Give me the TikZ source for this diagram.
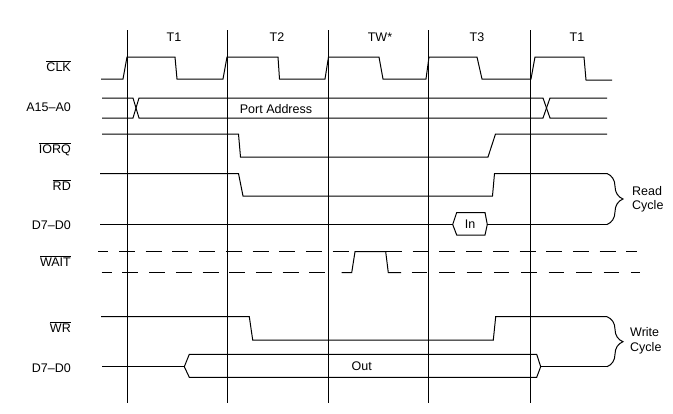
\documentclass[tikz,border=0pt]{standalone}
\usepackage{fontspec}
\setmainfont{Liberation Sans}
\usetikzlibrary{decorations.pathreplacing}
\begin{document}
\begin{tikzpicture}[x=1pt,y=-1pt,
  sig/.style={line width=1pt,line join=miter},
  gridline/.style={line width=0.9pt},
  txt/.style={inner sep=0pt,font=\fontsize{12.5}{14}\selectfont},
  lbl/.style={txt,anchor=base east},
  tlbl/.style={txt,anchor=base},
  rlbl/.style={txt,anchor=base west},
  dshA/.style={line width=1pt,dash pattern=on 16pt off 10.7pt,dash phase=6pt},
  dshB/.style={line width=1pt,dash pattern=on 15.5pt off 11.9pt},
  brc/.style={decorate,decoration={brace,amplitude=16pt},line width=1pt}
]
\useasboundingbox (0,0) rectangle (673,413);

% time grid
\foreach \x/\n in {127/g1,227/g2,328/g3,428/g4,530/g5}{
  \coordinate (\n t) at (\x,30);
  \coordinate (\n b) at (\x,403);
  \draw[gridline] (\n t) -- (\n b);
}
\node[tlbl] (t1) at (174,41.5) {T1};
\node[tlbl] (t2) at (277,41.5) {T2};
\node[tlbl] (tw) at (380,41.5) {TW*};
\node[tlbl] (t3) at (477,41.5) {T3};
\node[tlbl] (t4) at (577,41.5) {T1};

% signal labels
\node[lbl] (lclk)  at (71,71)    {$\overline{\hbox{CLK}}$};
\node[lbl] (laddr) at (71,111.5) {A15--A0};
\node[lbl] (liorq) at (71,153)   {$\overline{\hbox{IORQ}}$};
\node[lbl] (lrd)   at (71,190)   {$\overline{\hbox{RD}}$};
\node[lbl] (ldr)   at (71,229)   {D7--D0};
\node[lbl] (lwait) at (71,266.5) {$\overline{\hbox{WAIT}}$};
\node[lbl] (lwr)   at (71,332.5) {$\overline{\hbox{WR}}$};
\node[lbl] (ldw)   at (71,372.5) {D7--D0};

% CLK
\draw[sig] (101,79) -- (123,79) -- (127,57) -- (175,57) -- (177,79) -- (223,79)
  -- (227,57) -- (278,57) -- (279.5,79) -- (325,79) -- (328.5,57) -- (379,57)
  -- (383,79) -- (426,79) -- (429,57) -- (477,57) -- (482,79) -- (531,79)
  -- (535,57) -- (584,57) -- (586,80) -- (612,80);

% Address bus
\draw[sig] (102,98) -- (133,98) -- (139,118) -- (543,118) -- (550,98) -- (607,98);
\draw[sig] (102,118) -- (133,118) -- (139,98) -- (543,98) -- (550,118) -- (607,118);
\node[tlbl] (paddr) at (276,113) {Port Address};

% IORQ
\draw[sig] (102,134) -- (238.5,134) -- (240.5,157) -- (488,157) -- (495.5,134) -- (607,134);

% RD
\coordinate (rdend) at (607,173.5);
\draw[sig] (100,173.5) -- (238.5,173.5) -- (243,196) -- (492.5,196) -- (494.5,173.5) -- (rdend);

% D7-D0 read
\coordinate (drend) at (607,224.5);
\draw[sig] (100,224.5) -- (452.7,224.5);
\draw[sig] (452.7,224.5) -- (456.7,212.5) -- (485,212.5) -- (487.3,224.5) -- (485,235) -- (456.7,235) -- cycle;
\draw[sig] (487.3,224.5) -- (drend);
\node[tlbl] (din) at (470,228) {In};

% Read brace
\draw[brc] (rdend) -- (drend);
\node[rlbl] (rd1) at (632,195) {Read};
\node[rlbl] (rd2) at (632,209.5) {Cycle};

% WAIT
\draw[dshA] (98.3,251.7) -- (636.7,251.7);
\draw[dshA] (101.7,272.7) -- (329.5,272.7);
\draw[sig] (341.7,272.7) -- (351.7,272.7) -- (355,251.7) -- (385.7,251.7) -- (388.3,272.7) -- (401,272.7);
\draw[dshB] (411.7,272.7) -- (640,272.7);

% WR
\coordinate (wrend) at (607,316.7);
\draw[sig] (101,316.7) -- (249.3,316.7) -- (252.7,340) -- (493.3,340) -- (495.7,316.7) -- (wrend);

% D7-D0 write
\coordinate (dwend) at (607,366.7);
\draw[sig] (102,366.7) -- (184.3,366.7);
\draw[sig] (184.3,366.7) -- (189.3,354.3) -- (536.7,354.3) -- (540.7,366.7) -- (536.7,377.3) -- (189.3,377.3) -- cycle;
\draw[sig] (540.7,366.7) -- (dwend);
\node[tlbl] (dout) at (361.7,370.5) {Out};

% Write brace
\draw[brc] (wrend) -- (dwend);
\node[rlbl] (wr1) at (630,336) {Write};
\node[rlbl] (wr2) at (630,351.5) {Cycle};
\end{tikzpicture}
\end{document}
